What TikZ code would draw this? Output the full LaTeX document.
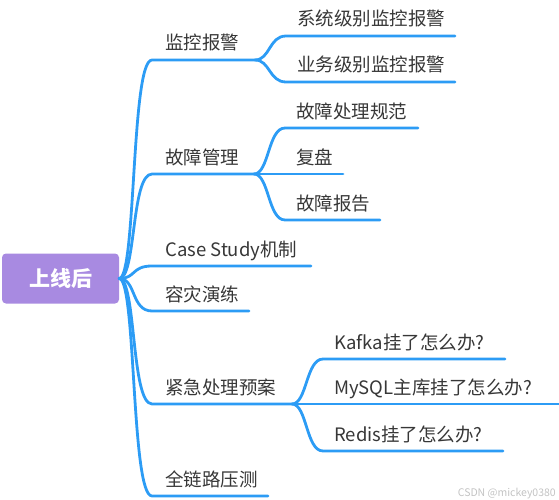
\documentclass[tikz,border=0pt]{standalone}
\usepackage{fontspec}
\setmainfont{Noto Sans CJK SC}
\definecolor{brblue}{RGB}{44,156,245}
\definecolor{rootpurple}{RGB}{168,138,225}
\definecolor{txtgray}{RGB}{55,55,55}
\definecolor{wmgray}{RGB}{195,195,195}
\begin{document}
\begin{tikzpicture}[x=1pt,y=-1pt,
  lvl/.style={anchor=base west, inner sep=0pt, font=\fontsize{18.5}{20}\selectfont, text=txtgray},
  br/.style={draw=brblue, line width=2.8pt, line cap=round, line join=round},
  rootbox/.style={fill=rootpurple, rounded corners=4pt, minimum width=117pt, minimum height=50pt,
    inner sep=0pt, text=white, font=\fontsize{21}{24}\selectfont\bfseries}]
\useasboundingbox (0,0) rectangle (559,500);
\node[rootbox] (root) at (60.5,278.5) {上线后};
\foreach \n/\y/\e/\t in {m1/60/255/监控报警, m2/174/254/故障管理, m3/266/311/Case Study机制,
    m4/311/249/容灾演练, m5/404/292/紧急处理预案, m6/496/268/全链路压测} {
  \node[lvl] (\n) at (165,\y-10) {\t};
  \coordinate (\n e) at (\e,\y);
  \draw[br] (root.east) .. controls +(17,0) and (131,\y) .. (152,\y) -- (\n e);
}
\foreach \p/\jx/\n/\y/\e/\tx/\t in {
    m1/255/s11/36/455/297/系统级别监控报警, m1/255/s12/82/455/297/业务级别监控报警,
    m2/254/s21/128/418/296/故障处理规范, m2/254/s22/174/343/296/复盘, m2/254/s23/220/380/296/故障报告,
    m5/292/s51/359/505/334/Kafka挂了怎么办?, m5/292/s52/404/559/334/MySQL主库挂了怎么办?,
    m5/292/s53/451/503/334/Redis挂了怎么办?} {
  \node[lvl] (\n) at (\tx,\y-10) {\t};
  \coordinate (\n e) at (\e,\y);
  \draw[br] (\p e) .. controls +(15,0) and +(-17,0) .. (\jx+31,\y) -- (\n e);
}
\node[anchor=base east, inner sep=0pt, font=\fontsize{10.5}{12}\selectfont, text=wmgray] (wm) at (556,496) {CSDN @mickey0380};
\end{tikzpicture}
\end{document}
